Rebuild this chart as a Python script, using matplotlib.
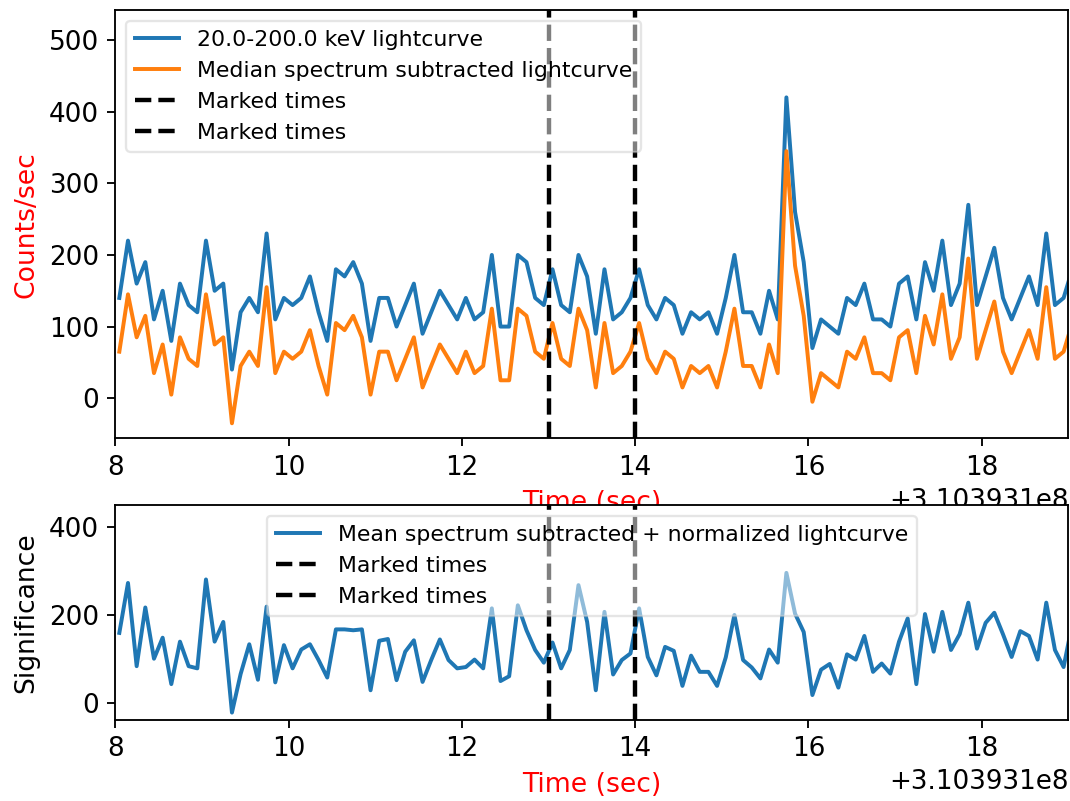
import numpy as np
import matplotlib
matplotlib.use("Agg")
import matplotlib.pyplot as plt

# light curve binning (0.1 s bins), times relative to the offset below
t_offset = 310393100.0
t_first = 8.046
bin_size = 0.1

# 20.0-200.0 keV light curve (counts/sec)
raw_rate = [140, 220, 160, 190, 110, 150, 80, 160, 130, 120,
            220, 150, 160, 40, 120, 140, 120, 230, 110, 140,
            130, 140, 170, 120, 80, 180, 170, 190, 160, 80,
            140, 140, 100, 130, 160, 90, 120, 150, 130, 110,
            140, 110, 120, 200, 100, 100, 200, 190, 140, 130,
            180, 130, 120, 200, 170, 90, 180, 110, 120, 140,
            180, 130, 110, 140, 130, 90, 120, 110, 120, 90,
            140, 200, 120, 120, 90, 150, 110, 420, 260, 190,
            70, 110, 100, 90, 140, 130, 160, 110, 110, 100,
            160, 170, 110, 190, 150, 220, 130, 160, 270, 130,
            170, 210, 140, 110, 140, 170, 130, 230, 130, 140,
            180]

# median spectrum subtracted light curve (counts/sec)
median_sub = [65, 145, 85, 115, 35, 75, 5, 85, 55, 45,
              145, 75, 85, -35, 45, 65, 45, 155, 35, 65,
              55, 65, 95, 45, 5, 105, 95, 115, 85, 5,
              65, 65, 25, 55, 85, 15, 45, 75, 55, 35,
              65, 35, 45, 125, 25, 25, 125, 115, 65, 55,
              105, 55, 45, 125, 95, 15, 105, 35, 45, 65,
              105, 55, 35, 65, 55, 15, 45, 35, 45, 15,
              65, 125, 45, 45, 15, 75, 35, 345, 185, 115,
              -5, 35, 25, 15, 65, 55, 85, 35, 35, 25,
              85, 95, 35, 115, 75, 145, 55, 85, 195, 55,
              95, 135, 65, 35, 65, 95, 55, 155, 55, 65,
              105]

# mean spectrum subtracted + normalized light curve (significance)
significance = [159, 273, 83, 217, 100, 148, 42, 139, 83, 78,
                281, 139, 184, -23, 65, 133, 52, 219, 46, 131,
                78, 121, 133, 97, 57, 167, 167, 165, 167, 28,
                141, 145, 51, 116, 142, 47, 97, 144, 97, 78,
                81, 98, 78, 215, 49, 60, 222, 165, 120, 91,
                137, 78, 120, 268, 184, 28, 207, 64, 97, 112,
                215, 104, 62, 127, 118, 38, 107, 70, 70, 38,
                103, 200, 97, 80, 55, 121, 91, 296, 203, 161,
                17, 75, 88, 34, 110, 98, 152, 70, 89, 66,
                139, 192, 42, 202, 116, 207, 120, 156, 228, 123,
                182, 205, 156, 104, 163, 152, 98, 228, 120, 81,
                180]

marked_times = [13.0, 14.0]

times = t_offset + t_first + bin_size * np.arange(len(raw_rate))

plt.rcParams['font.family'] = 'DejaVu Sans'

fig = plt.figure(figsize=(1070 / 167, 801 / 167), dpi=167)
ax1 = fig.add_axes([0.1078, 0.4528, 0.8906, 0.5347])
ax2 = fig.add_axes([0.1078, 0.1011, 0.8906, 0.2684])

tick_size = 11.3
leg_size = 9.5
lab_size = 11.5
lw_data = 1.7
lw_mark = 1.9

ax1.plot(times, raw_rate, lw=lw_data, label="20.0-200.0 keV lightcurve")
ax1.plot(times, median_sub, lw=lw_data, label="Median spectrum subtracted lightcurve")
for mt in marked_times:
    ax1.axvline(t_offset + mt, color='k', ls='--', lw=lw_mark, label="Marked times")
ax1.set_xlim(t_offset + 8, t_offset + 19)
ax1.set_ylim(-56, 542)
ax1.set_ylabel("Counts/sec", color='red', fontsize=lab_size)
ax1.set_xlabel("Time (sec)", color='red', fontsize=lab_size)
ax1.legend(loc='upper left', fontsize=leg_size, framealpha=0.5)

ax2.plot(times, significance, lw=lw_data,
         label="Mean spectrum subtracted + normalized lightcurve")
for mt in marked_times:
    ax2.axvline(t_offset + mt, color='k', ls='--', lw=lw_mark, label="Marked times")
ax2.set_xlim(t_offset + 8, t_offset + 19)
ax2.set_ylim(-40, 451)
ax2.set_ylabel("Significance", fontsize=lab_size)
ax2.set_xlabel("Time (sec)", color='red', fontsize=lab_size)
ax2.legend(loc='upper center', fontsize=leg_size, framealpha=0.5)

for ax in (ax1, ax2):
    ax.tick_params(labelsize=tick_size)
    ax.xaxis.get_offset_text().set_fontsize(tick_size)

fig.savefig("out.png", dpi=167)
